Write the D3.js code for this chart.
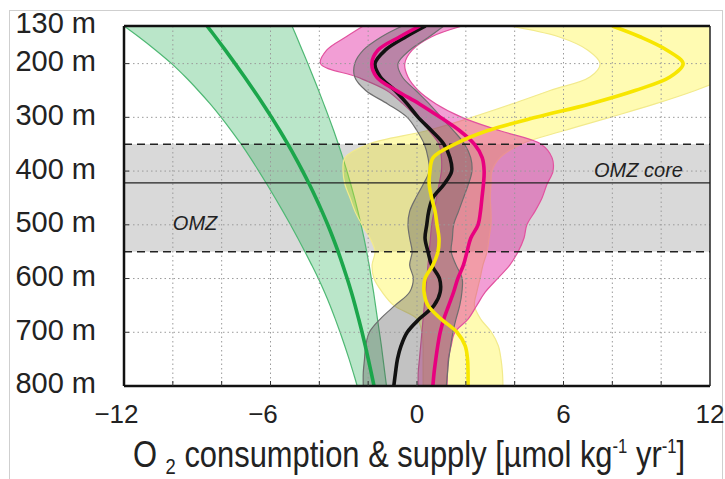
<!DOCTYPE html>
<html lang="en">
<head>
<meta charset="utf-8">
<title>O2 consumption and supply profile</title>
<script src="https://cdn.jsdelivr.net/npm/d3@7"></script>
<style>
  body { margin: 0; background: #fff; }
  text { font-family: "Liberation Sans", Arial, sans-serif; fill: #222; }
</style>
</head>
<body>
<svg id="chart" width="725" height="479"></svg>
<script>
// depth levels (m) shared by all profiles
var depth = [130,150,175,200,225,250,275,300,325,350,375,400,425,450,475,500,525,550,575,600,625,650,675,700,725,750,775,800];

// green: consumption
var greenLine = [-8.6,-8.26,-7.85,-7.45,-7.06,-6.68,-6.31,-5.955,-5.615,-5.29,-4.98,-4.685,-4.405,-4.14,-3.89,-3.655,-3.435,-3.23,-3.04,-2.86,-2.69,-2.535,-2.39,-2.25,-2.12,-1.995,-1.875,-1.76];
var greenLo = [-12,-11.4,-10.7,-10.05,-9.48,-8.96,-8.47,-8.02,-7.6,-7.2,-6.83,-6.48,-6.14,-5.81,-5.49,-5.18,-4.88,-4.59,-4.31,-4.04,-3.79,-3.56,-3.35,-3.15,-2.96,-2.78,-2.61,-2.45];
var greenHi = [-5.12,-4.93,-4.7,-4.47,-4.25,-4.03,-3.82,-3.61,-3.41,-3.22,-3.04,-2.87,-2.71,-2.56,-2.42,-2.29,-2.17,-2.06,-1.96,-1.87,-1.78,-1.7,-1.62,-1.54,-1.46,-1.39,-1.32,-1.25];

// black / gray
var blackLine = [0.35,-0.45,-1.3,-1.72,-1.5,-0.9,-0.4,0.05,0.6,1.1,1.35,1.42,1.1,0.65,0.48,0.4,0.33,0.45,0.6,0.92,0.95,0.7,0.1,-0.4,-0.65,-0.8,-0.88,-0.95];
var grayLo = [-0.6,-1.45,-2.2,-2.55,-2.55,-2.1,-1.2,-0.4,0,0.3,0.45,0.5,0.25,-0.05,-0.3,-0.37,-0.3,-0.2,-0.3,-0.15,-0.3,-0.9,-1.5,-1.95,-2.1,-2.15,-2.2,-2.2];
var grayHi = [1.1,0.5,-0.3,-0.78,-0.6,-0.05,0.5,1,1.5,1.95,2.2,2.25,2.1,1.9,1.7,1.5,1.45,1.4,1.6,1.85,1.84,1.75,1.6,1.47,1.38,1.3,1.25,1.2];

// magenta / pink
var magentaLine = [0.12,-0.7,-1.6,-1.85,-1.65,-0.85,0.1,0.95,1.75,2.35,2.67,2.75,2.72,2.66,2.6,2.5,2.2,2.05,1.9,1.67,1.5,1.3,1.1,0.95,0.85,0.77,0.7,0.65];
var pinkLo = [-2.2,-2.9,-3.7,-3.95,-2.45,-1.24,-0.57,0,0.5,0.9,1,1,0.9,0.8,0.7,0.6,0.55,0.5,0.45,0.4,0.35,0.3,0.25,0.2,0.15,0.1,0.05,0.05];
var pinkHi = [1.85,0.6,-0.2,-0.5,-0.37,0.05,0.78,1.84,3.4,5.08,5.53,5.57,5.32,5.12,4.83,4.5,4.38,4.14,3.8,3.3,2.8,2.45,2.1,1.55,1.4,1.28,1.25,1.23];

// yellow
var yellowLine = [8,9.13,10.24,10.9,10.36,8.93,7.08,4.87,2.87,1.55,0.66,0.53,0.5,0.6,0.74,0.82,0.9,0.86,0.65,0.33,0.29,0.45,0.98,1.64,1.97,2.07,2.09,2.09];
var yellowLo = [3.77,5.8,7,7.5,7.08,5.45,3.9,2.25,0.4,-2,-2.95,-3.03,-2.95,-2.74,-2.54,-2.25,-1.92,-1.72,-1.84,-1.76,-1.43,-0.95,0,0.2,0.25,0.25,0.25,0.25];
var yellowHi = [14,14,14,14,12.8,11.4,9.75,7.9,6,4.26,3.4,3.07,3.03,3,3.03,3.03,2.95,2.87,2.7,2.58,2.45,2.35,2.6,3.05,3.33,3.44,3.5,3.52];

var xTicks = [-12,-6,0,6,12];
var xGrid = [-10,-8,-6,-4,-2,0,2,4,6,8,10];
var depthTicks = [130,200,300,400,500,600,700,800];
var depthGrid = [200,300,400,500,600,700];
var omzTop = 350, omzBottom = 550, omzCore = 422;

var svg = d3.select("#chart");
var pl = 124, pr = 710, pt = 26, pb = 386;
var x = d3.scaleLinear().domain([-12,12]).range([pl,pr]);
var y = d3.scaleLinear().domain([130,800]).range([pt,pb]);

// outer frame of the figure
svg.append("rect").attr("x",9.5).attr("y",10.5).attr("width",713).attr("height",490)
  .attr("fill","none").attr("stroke","#cfcfcf").attr("stroke-width",1);

svg.append("clipPath").attr("id","plotclip").append("rect")
  .attr("x",pl).attr("y",pt).attr("width",pr-pl).attr("height",pb-pt);

var plot = svg.append("g").attr("clip-path","url(#plotclip)");

// OMZ shading
plot.append("rect").attr("x",pl).attr("width",pr-pl)
  .attr("y",y(omzTop)).attr("height",y(omzBottom)-y(omzTop)).attr("fill","#d9d9d9");

function band(lo, hi, fill, op, edge) {
  var area = d3.area()
    .y(function(d,i){ return y(depth[i]); })
    .x0(function(d,i){ return x(lo[i]); })
    .x1(function(d,i){ return x(hi[i]); })
    .curve(d3.curveCatmullRom);
  plot.append("path").datum(depth).attr("d",area)
    .attr("fill",fill).attr("fill-opacity",op).attr("stroke","none");
  [lo,hi].forEach(function(arr){
    var ln = d3.line().y(function(d,i){ return y(depth[i]); })
      .x(function(d,i){ return x(arr[i]); }).curve(d3.curveCatmullRom);
    plot.append("path").datum(depth).attr("d",ln)
      .attr("fill","none").attr("stroke",edge).attr("stroke-width",1.2);
  });
}

band(greenLo, greenHi, "#2eb35a", 0.33, "#4fb874");
band(yellowLo, yellowHi, "#fff200", 0.3, "#f2ea8c");
band(pinkLo, pinkHi, "#e0199a", 0.42, "#e2529f");
band(grayLo, grayHi, "#555555", 0.36, "#6e6e6e");

// grid
plot.selectAll(".vg").data(xGrid).enter().append("line")
  .attr("x1",function(d){return x(d);}).attr("x2",function(d){return x(d);})
  .attr("y1",pt).attr("y2",pb)
  .attr("stroke","#9a9a9a").attr("stroke-width",1).attr("stroke-dasharray","1.5,3");
plot.selectAll(".hg").data(depthGrid).enter().append("line")
  .attr("y1",function(d){return y(d);}).attr("y2",function(d){return y(d);})
  .attr("x1",pl).attr("x2",pr)
  .attr("stroke","#9a9a9a").attr("stroke-width",1).attr("stroke-dasharray","1.5,3");

// OMZ boundaries
[omzTop, omzBottom].forEach(function(d){
  plot.append("line").attr("x1",pl).attr("x2",pr).attr("y1",y(d)).attr("y2",y(d))
    .attr("stroke","#222").attr("stroke-width",1.5).attr("stroke-dasharray","8,5");
});
plot.append("line").attr("x1",pl).attr("x2",pr).attr("y1",y(omzCore)).attr("y2",y(omzCore))
  .attr("stroke","#222").attr("stroke-width",1.2);

function profile(arr, color) {
  var ln = d3.line().y(function(d,i){ return y(depth[i]); })
    .x(function(d,i){ return x(arr[i]); }).curve(d3.curveCatmullRom);
  plot.append("path").datum(depth).attr("d",ln)
    .attr("fill","none").attr("stroke",color).attr("stroke-width",3.6);
}
profile(greenLine, "#1ba64b");
profile(blackLine, "#111111");
profile(magentaLine, "#e8007f");
profile(yellowLine, "#f7e600");

// annotations
svg.append("text").attr("x",x(-10)).attr("y",y(510)).attr("font-size",20)
  .attr("font-style","italic").text("OMZ");
svg.append("text").attr("x",x(7.25)).attr("y",y(411)).attr("font-size",20)
  .attr("font-style","italic").text("OMZ core");

// axes frame
svg.append("line").attr("x1",pl).attr("x2",pr).attr("y1",pt).attr("y2",pt).attr("stroke","#111").attr("stroke-width",2.5);
svg.append("line").attr("x1",pl).attr("x2",pr).attr("y1",pb).attr("y2",pb).attr("stroke","#111").attr("stroke-width",2.5);
svg.append("line").attr("x1",pl).attr("x2",pl).attr("y1",pt).attr("y2",pb).attr("stroke","#111").attr("stroke-width",2.5);
svg.append("line").attr("x1",pr).attr("x2",pr).attr("y1",pt).attr("y2",pb).attr("stroke","#222").attr("stroke-width",1.5);

// inward ticks
svg.selectAll(".xt").data(xGrid).enter().append("line")
  .attr("x1",function(d){return x(d);}).attr("x2",function(d){return x(d);})
  .attr("y1",pb).attr("y2",pb-5).attr("stroke","#333").attr("stroke-width",1);
svg.selectAll(".yt").data(depthGrid).enter().append("line")
  .attr("y1",function(d){return y(d);}).attr("y2",function(d){return y(d);})
  .attr("x1",pl).attr("x2",pl+5).attr("stroke","#333").attr("stroke-width",1);

// tick labels
svg.selectAll(".xl").data(xTicks).enter().append("text")
  .attr("x",function(d){return x(d);}).attr("y",423)
  .attr("dx",function(d){return d < 0 ? "-0.29em" : 0;})
  .attr("text-anchor","middle").attr("font-size",26)
  .text(function(d){ return d < 0 ? "\u2212" + Math.abs(d) : d; });
svg.selectAll(".yl").data(depthTicks).enter().append("text")
  .attr("x",96).attr("y",function(d){return y(d) - 3;}).attr("dy","0.36em")
  .attr("text-anchor","end").attr("font-size",29)
  .text(function(d){ return d + " m"; });

// x title
var title = svg.append("text").attr("transform","translate(133,467) scale(0.835,1)")
  .attr("font-size",37);
title.append("tspan").text("O ");
title.append("tspan").attr("font-size",22).attr("dy",7).text("2");
title.append("tspan").attr("dy",-7).text(" consumption & supply [\u00b5mol kg");
title.append("tspan").attr("font-size",20).attr("dy",-14).text("-1");
title.append("tspan").attr("dy",14).text(" yr");
title.append("tspan").attr("font-size",20).attr("dy",-14).text("-1");
title.append("tspan").attr("dy",14).text("]");
</script>
</body>
</html>
